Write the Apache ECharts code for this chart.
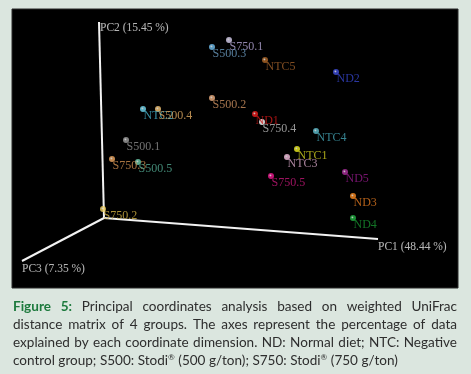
<!DOCTYPE html>
<html>
<head>
<meta charset="utf-8">
<script src="https://cdn.jsdelivr.net/npm/echarts@6/dist/echarts.min.js"></script>
<style>
html,body{margin:0;padding:0;background:#dbe6df;}
#chart{width:471px;height:374px;}
</style>
</head>
<body>
<div id="chart"></div>
<script>
// ---- data (projected PCoA positions) ----
const samples = ['S750.1','S500.3','NTC5','ND2','S500.2','ND1','S750.4','NTC4','NTC1','NTC3','S750.5','ND5','ND3','ND4','NTC2','S500.4','S500.1','S750.3','S500.5','S750.2'];
const projX = [125,108,161,232,108,151,158,212,193,183,167,241,249,249,39,54,22,8,34,-1];
const projY = [178,171,158,146,120,104,96,87,69,61,42,46,22,0,109,109,78,59,56,9];
const dotColors = ['#d8d0f0','#70c0f0','#b06828','#4050e0','#f0b080','#f02020','#ffffff','#60c0d0','#f0f020','#f8c0e0','#f01890','#b030a0','#ff8c20','#20b040','#70d8f0','#f8c878','#a0a0a0','#f0a860','#70d0b0','#f0d060'];
const labelColors = ['#b4a6d6','#6c9cc2','#a0602a','#3444c8','#d09262','#d01818','#bcbcbc','#44a4b4','#d2d020','#d2a2c2','#c41878','#941a8a','#e07820','#189030','#44b2ca','#e0aa62','#909090','#d09050','#52aa92','#d2b244'];
const axisNames = ['PC1 (48.44 %)','PC2 (15.45 %)','PC3 (7.35 %)'];
const axisEndX = [274,-5,-82];
const axisEndY = [-21,196,-43];
const captionLines = [
  'Figure 5: Principal coordinates analysis based on weighted UniFrac',
  'distance matrix of 4 groups. The axes represent the percentage of data',
  'explained by each coordinate dimension. ND: Normal diet; NTC: Negative',
  'control group; S500: Stodi\u00ae (500 g/ton); S750: Stodi\u00ae (750 g/ton)'
];

// ---- caption layout (justified) ----
const cv = document.createElement('canvas').getContext('2d');
function mw(font, t){ cv.font = font; return cv.measureText(t).width; }
const capFamily = 'Lato';
const REG = '\u00ae';
function natWidth(size, line){
  const fn = size + 'px ' + capFamily, fs = (size * 0.6) + 'px ' + capFamily;
  const parts = line.split(REG);
  let w = 0;
  parts.forEach((p, i) => { w += mw(fn, p); if (i < parts.length - 1) w += mw(fs, REG); });
  return w;
}
let capSize = 14 * 385 / natWidth(14, captionLines[3]);
capSize = Math.max(12, Math.min(16, capSize));
const fN = capSize + 'px ' + capFamily;
const fB = 'bold ' + capSize + 'px ' + capFamily;
const fS = (capSize * 0.6) + 'px ' + capFamily;
const capLeft = 13, capRight = 457;
const capY = [306.6, 324.6, 342.6, 360.8];
const captionEls = [];
captionLines.forEach((line, li) => {
  const words = line.split(' ');
  const isBold = (wi) => li === 0 && wi < 2;
  const widths = words.map((w, wi) => {
    if (isBold(wi)) return mw(fB, w);
    const parts = w.split(REG);
    let s = 0;
    parts.forEach((p, k) => { s += mw(fN, p); if (k < parts.length - 1) s += mw(fS, REG); });
    return s;
  });
  const sum = widths.reduce((a, b) => a + b, 0);
  const justify = li < captionLines.length - 1;
  const gap = justify ? (capRight - capLeft - sum) / (words.length - 1) : mw(fN, ' ');
  let x = capLeft;
  words.forEach((w, wi) => {
    const bold = isBold(wi);
    const txt = bold ? w : w.split(REG).join('{sup|' + REG + '}');
    captionEls.push({
      type: 'text', x: x, y: capY[li], silent: true,
      style: {
        text: txt, font: bold ? fB : fN, fill: bold ? '#1e7a3e' : '#2e2e2e',
        verticalAlign: 'middle', align: 'left',
        rich: { sup: { fontSize: capSize * 0.6, fontFamily: 'Lato', fill: '#2e2e2e', verticalAlign: 'top', padding: [0, 0, 6, 0] } }
      }
    });
    x += widths[wi] + gap;
  });
});

// ---- chart ----
const chart = echarts.init(document.getElementById('chart'));
const serif = 'Liberation Serif';
const axisSeries = axisNames.map((n, i) => ({
  type: 'line', name: n, silent: true, symbol: 'none', animation: false,
  lineStyle: { color: '#f2f2f2', width: 2 },
  data: [[0, 0], [axisEndX[i], axisEndY[i]]]
}));
const axisLabelOffsets = [[0.5, 8.5], [1.5, 6.8], [0.5, 8.8]];
chart.setOption({
  backgroundColor: '#dbe6df',
  animation: false,
  grid: { left: 12, top: 9, width: 446, height: 279, show: true, backgroundColor: '#000', borderColor: '#2a2a2a', borderWidth: 1 },
  xAxis: { type: 'value', min: -92, max: 354, show: false },
  yAxis: { type: 'value', min: -70, max: 209, show: false },
  series: axisSeries.concat([
    {
      type: 'scatter', name: 'axis titles', silent: true, symbolSize: 1,
      itemStyle: { color: 'rgba(0,0,0,0)' },
      data: axisNames.map((n, i) => ({
        value: [axisEndX[i], axisEndY[i]], name: n,
        label: { show: true, formatter: n, position: axisLabelOffsets[i], align: 'left', verticalAlign: 'middle',
          color: '#e4e4e4', fontFamily: serif, fontSize: 11.5 }
      }))
    },
    {
      type: 'scatter', name: 'samples', symbolSize: 6, z: 5,
      data: samples.map((s, i) => ({
        value: [projX[i], projY[i]], name: s,
        itemStyle: { color: {
          type: 'radial', x: 0.4, y: 0.4, r: 0.7,
          colorStops: [{ offset: 0, color: '#ffffff' }, { offset: 0.35, color: dotColors[i] }, { offset: 1, color: dotColors[i] }]
        } },
        label: { show: true, formatter: s, position: [3.5, 10.3], align: 'left', verticalAlign: 'middle',
          color: labelColors[i], fontFamily: serif, fontSize: 12 }
      }))
    }
  ]),
  graphic: { elements: captionEls }
});
</script>
</body>
</html>
